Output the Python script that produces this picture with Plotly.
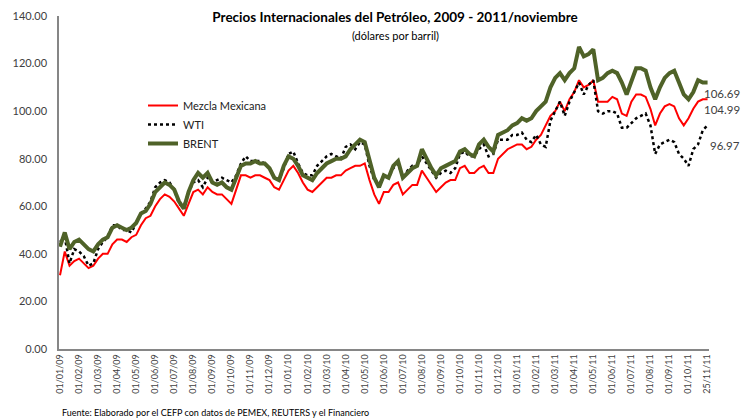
import plotly.graph_objects as go

# ---- data (weekly readings: days 01, 08, 15, 22 of each month; last point = 25/11/11) ----
month_labels = [
    "01/01/09", "01/02/09", "01/03/09", "01/04/09", "01/05/09", "01/06/09",
    "01/07/09", "01/08/09", "01/09/09", "01/10/09", "01/11/09", "01/12/09",
    "01/01/10", "01/02/10", "01/03/10", "01/04/10", "01/05/10", "01/06/10",
    "01/07/10", "01/08/10", "01/09/10", "01/10/10", "01/11/10", "01/12/10",
    "01/01/11", "01/02/11", "01/03/11", "01/04/11", "01/05/11", "01/06/11",
    "01/07/11", "01/08/11", "01/09/11", "01/10/11",
]
week_days = ["01", "08", "15", "22"]
last_label = "25/11/11"

mezcla = [
    31, 41, 35, 37,   38, 36, 34, 35,   38, 40, 40, 44,   46, 46, 45, 47,
    48, 52, 55, 56,   60, 63, 65, 64,   62, 59, 56, 61,   66, 67, 65, 68,
    66, 65, 65, 63,   61, 67, 73, 73,   72, 73, 73, 72,   71, 68, 67, 71,
    75, 77, 74, 70,   67, 66, 68, 70,   72, 72, 73, 73,   75, 76, 77, 77,
    78, 71, 65, 61,   66, 66, 69, 70,   65, 67, 69, 69,   75, 72, 69, 66,
    68, 70, 71, 71,   76, 77, 74, 74,   76, 77, 74, 74,   80, 82, 84, 85,
    86, 86, 84, 85,   88, 90, 94, 98,   100, 104, 100, 105, 108, 113, 110, 111,
    113, 104, 104, 104, 106, 105, 99, 98, 104, 107, 107, 106, 101, 94, 99, 102,
    103, 102, 97, 94, 97, 101, 104, 105,
    105,
]
wti = [
    45, 47, 36, 42,   41, 39, 35, 36,   42, 45, 47, 52,   52, 50, 50, 49,
    53, 57, 59, 62,   68, 70, 71, 70,   67, 61, 60, 66,   70, 71, 68, 72,
    70, 71, 72, 71,   70, 73, 78, 81,   79, 79, 79, 78,   76, 72, 71, 76,
    82, 83, 78, 74,   73, 73, 77, 79,   81, 82, 81, 80,   85, 86, 84, 87,
    86, 77, 71, 69,   73, 72, 76, 78,   72, 75, 77, 77,   81, 78, 75, 72,
    74, 75, 74, 76,   82, 83, 81, 81,   84, 86, 81, 82,   88, 88, 88, 90,
    90, 91, 88, 87,   90, 86, 85, 96,   100, 104, 98, 104, 108, 112, 107, 111,
    113, 100, 99, 100, 100, 99, 93, 93, 95, 97, 98, 99,   94, 82, 86, 87,
    88, 87, 82, 80,   77, 84, 86, 92,
    94,
]
brent = [
    43, 49, 42, 45,   46, 44, 42, 41,   44, 46, 47, 51,   52, 51, 50, 51,
    53, 57, 58, 61,   66, 68, 70, 69,   67, 62, 59, 66,   71, 74, 72, 74,
    70, 69, 70, 68,   67, 72, 77, 78,   78, 79, 78, 78,   76, 72, 71, 77,
    81, 80, 77, 73,   72, 71, 74, 76,   78, 79, 80, 80,   81, 84, 86, 88,
    87, 79, 72, 68,   73, 72, 77, 79,   72, 74, 76, 77,   84, 80, 76, 73,
    76, 77, 78, 79,   83, 84, 82, 81,   86, 88, 85, 83,   90, 91, 92, 94,
    95, 97, 96, 97,   100, 102, 104, 110, 114, 116, 113, 116, 118, 127, 123, 124,
    126, 113, 114, 116, 117, 116, 112, 107, 113, 118, 118, 117, 110, 105, 110, 114,
    116, 117, 112, 107, 105, 108, 113, 112,
    112,
]
end_labels = {"BRENT": "106.69", "Mezcla Mexicana": "104.99", "WTI": "96.97"}

# ---- categories ----
dates = []
for lab in month_labels:
    mm_yy = lab[3:]
    for d in week_days:
        dates.append(f"{d}/{mm_yy}")
dates.append(last_label)
tickvals = month_labels + [last_label]

txt = "#404040"
font_family = "Lato, 'Open Sans', sans-serif"

fig = go.Figure()
fig.add_trace(go.Scatter(x=dates, y=mezcla, mode="lines", name="Mezcla Mexicana",
                         line=dict(color="#FF0000", width=2), legendgroup="a"))
fig.add_trace(go.Scatter(x=dates, y=wti, mode="lines", name="WTI",
                         line=dict(color="#000000", width=2.5, dash="dot"), legendgroup="b"))
fig.add_trace(go.Scatter(x=dates, y=brent, mode="lines", name="BRENT",
                         line=dict(color="#4F6228", width=4), legendgroup="c"))

L, R, T, B = 59, 36, 16, 70
W, H = 745, 419
pw = W - L - R
ph = H - T - B

def px(p):
    return (p - L) / pw

def py(q):
    return (H - B - q) / ph

annotations = [
    dict(text="(dólares por barril)", x=px(395), y=py(35), xref="paper", yref="paper",
         showarrow=False, font=dict(size=11, color="#000000", family=font_family),
         xanchor="center", yanchor="middle"),
    dict(text="Fuente: Elaborado por el CEFP con datos de PEMEX, REUTERS y el Financiero",
         x=px(60), y=py(412), xref="paper", yref="paper", showarrow=False,
         font=dict(size=9, color="#000000", family=font_family),
         xanchor="left", yanchor="middle"),
    dict(text=end_labels["BRENT"], x=last_label, y=brent[-1], xref="x", yref="y",
         showarrow=False, xanchor="left", yanchor="middle", xshift=-6, yshift=-11,
         font=dict(size=11.5, color=txt, family=font_family)),
    dict(text=end_labels["Mezcla Mexicana"], x=last_label, y=mezcla[-1], xref="x", yref="y",
         showarrow=False, xanchor="left", yanchor="middle", xshift=-6, yshift=-10,
         font=dict(size=11.5, color=txt, family=font_family)),
    dict(text=end_labels["WTI"], x=last_label, y=wti[-1], xref="x", yref="y",
         showarrow=False, xanchor="left", yanchor="middle", xshift=0, yshift=-20,
         font=dict(size=11.5, color=txt, family=font_family)),
]

fig.update_layout(
    width=W, height=H,
    margin=dict(l=L, r=R, t=T, b=B, autoexpand=False),
    paper_bgcolor="white", plot_bgcolor="white",
    font=dict(family=font_family, color=txt),
    title=dict(text="<b>Precios Internacionales del Petróleo, 2009 - 2011/noviembre</b>",
               x=395 / W, y=1 - 17 / H, xanchor="center", yanchor="middle",
               font=dict(size=13.5, color="#000000", family=font_family)),
    showlegend=True,
    legend=dict(x=px(143), y=py(91), xanchor="left", yanchor="top",
                bgcolor="rgba(0,0,0,0)", font=dict(size=11, color="#222222", family=font_family),
                tracegroupgap=7, traceorder="normal"),
    annotations=annotations,
    xaxis=dict(type="category", range=[-0.21, len(dates) - 1 + 0.3],
               tickmode="array", tickvals=tickvals, ticktext=tickvals,
               tickangle=-90, tickfont=dict(size=9, color=txt, family=font_family),
               showgrid=False, showline=True, linecolor="#868686", linewidth=1.5,
               ticks="", zeroline=False, automargin=False),
    yaxis=dict(range=[0, 140], dtick=20, tick0=0, tickformat=".2f",
               tickfont=dict(size=11, color=txt, family=font_family),
               showgrid=False, showline=True, linecolor="#868686", linewidth=1.5,
               ticks="", ticklabelstandoff=8, zeroline=False, automargin=False),
)

fig.write_html(
    "out.html",
    config={"displayModeBar": False},
    post_script="document.body.style.margin='0';document.body.style.padding='0';"
                "document.body.style.overflow='hidden';",
)
